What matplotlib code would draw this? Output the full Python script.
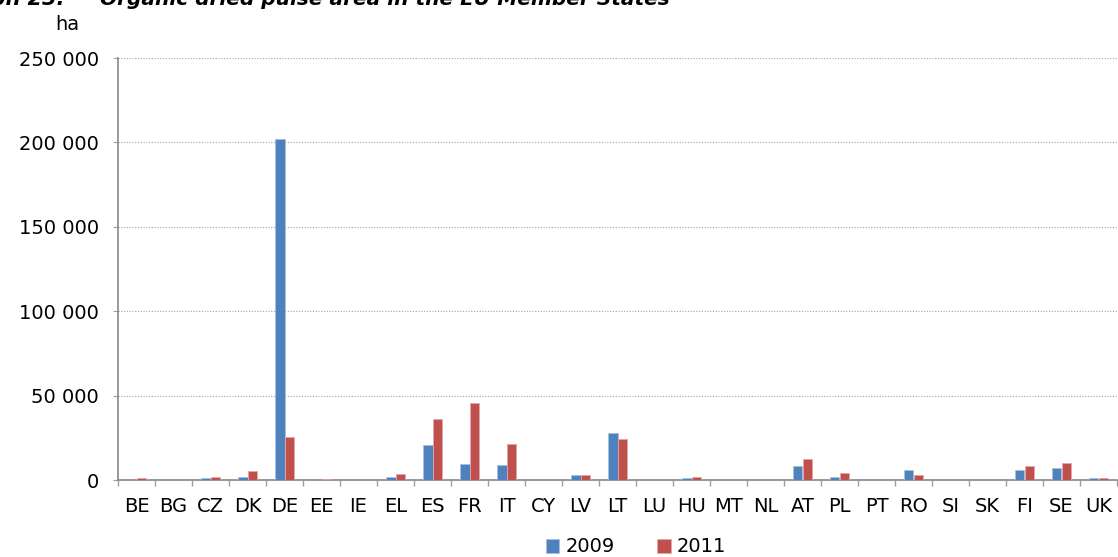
import matplotlib
matplotlib.use("Agg")
import matplotlib.pyplot as plt
import numpy as np
from matplotlib.ticker import FixedLocator, FuncFormatter

countries = ["BE", "BG", "CZ", "DK", "DE", "EE", "IE", "EL", "ES", "FR", "IT", "CY", "LV", "LT",
             "LU", "HU", "MT", "NL", "AT", "PL", "PT", "RO", "SI", "SK", "FI", "SE", "UK"]
area_2009 = [100, 0, 1400, 2000, 202000, 100, 0, 1500, 20500, 9500, 9100, 0, 3100, 27600,
             0, 1200, 0, 0, 8300, 1800, 0, 6100, 0, 0, 6100, 7300, 1400]
area_2011 = [1100, 0, 2000, 5500, 25500, 700, 0, 3700, 36100, 45600, 21500, 0, 3100, 24500,
             0, 2000, 0, 0, 12600, 4300, 0, 3100, 0, 0, 8000, 10200, 1400]
series_labels = ["2009", "2011"]
y_ticks = [0, 50000, 100000, 150000, 200000, 250000]

fig = plt.figure(figsize=(11.18, 5.57), dpi=100)
ax = fig.add_axes([118/1118, 77/557, 999/1118, 422/557])

x = np.arange(len(countries))
w = 0.27
ax.bar(x - w/2, area_2009, width=w, color="#4F81BD", edgecolor="#A7C0DE", linewidth=0.6, label=series_labels[0], zorder=3)
ax.bar(x + w/2, area_2011, width=w, color="#C0504D", edgecolor="#E0A8A6", linewidth=0.6, label=series_labels[1], zorder=3)

ax.set_xlim(-0.5, len(countries) - 0.5)
ax.set_ylim(0, 250000)
ax.yaxis.set_major_locator(FixedLocator(y_ticks))
ax.yaxis.set_major_formatter(FuncFormatter(lambda v, p: f"{int(v):,}".replace(",", " ")))
ax.grid(axis="y", color="#A0A0A0", linestyle=(0, (1, 1.5)), linewidth=0.8, zorder=0)

ax.set_xticks(x)
ax.set_xticklabels(countries)
ax.set_xticks(np.arange(-0.5, len(countries)), minor=True)
ax.tick_params(axis="x", which="major", length=0, labelsize=14, pad=12, colors="black")
ax.tick_params(axis="x", which="minor", length=4.5, color="#A0A0A0", width=1)
ax.tick_params(axis="y", which="major", length=3.6, color="#A0A0A0", labelsize=14, pad=10)

for s in ["top", "right"]:
    ax.spines[s].set_visible(False)
for s in ["left", "bottom"]:
    ax.spines[s].set_color("#888888")
    ax.spines[s].set_linewidth(1.2)

fig.text(67/1118, 1 - 25/557, "ha", ha="center", va="center", fontsize=14)

fig.text(65/1118, 1 - 5/557, "Graph 23:", ha="right", va="baseline", fontsize=15,
         fontweight="bold", fontstyle="italic")
fig.text(100/1118, 1 - 5/557, "Organic dried pulse area in the EU Member States", ha="left",
         va="baseline", fontsize=14.5, fontweight="bold", fontstyle="italic")

fig.legend(loc="center", bbox_to_anchor=(636/1118, 1 - 547/557), ncol=2, frameon=False,
           fontsize=14, handlelength=0.7, handleheight=0.7, handletextpad=0.3, columnspacing=2.2)

fig.savefig("out.png", dpi=100)
